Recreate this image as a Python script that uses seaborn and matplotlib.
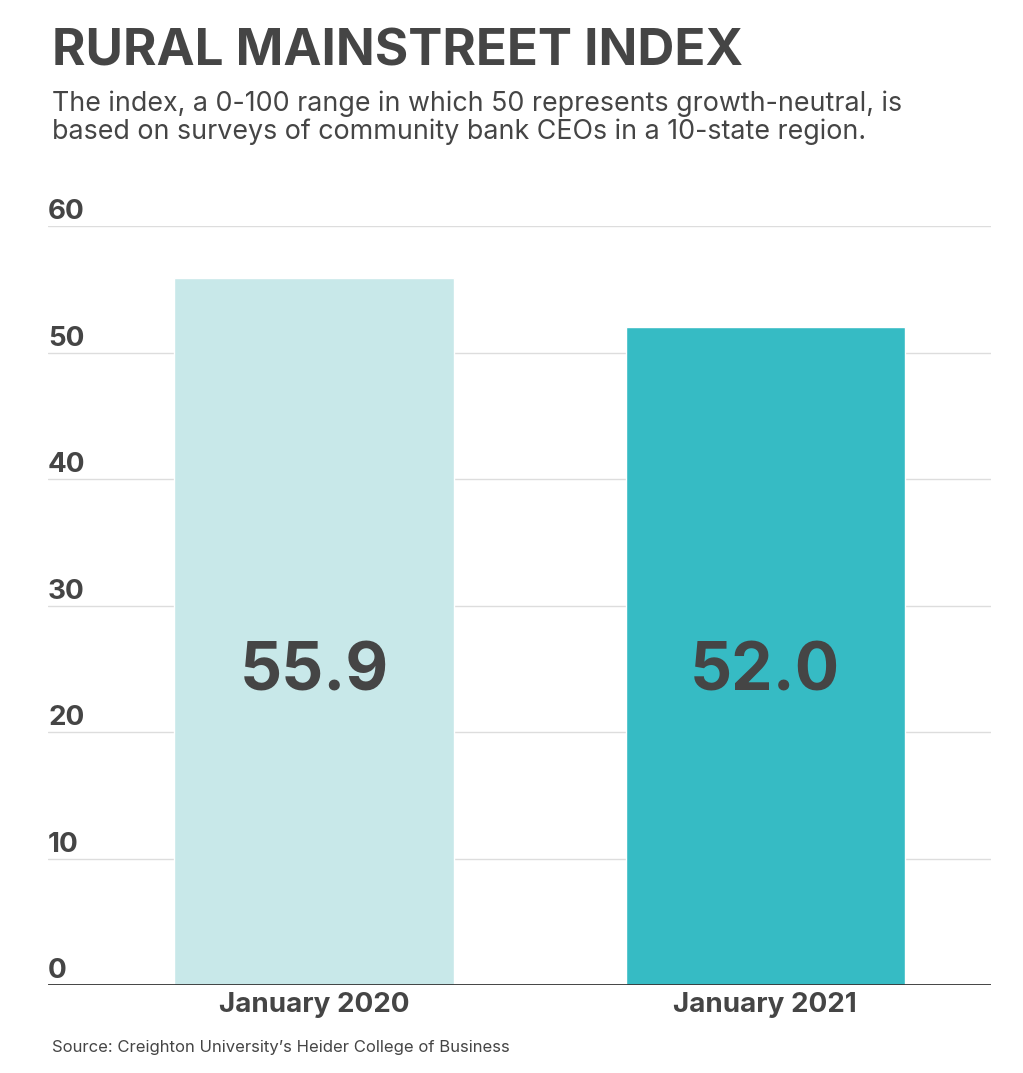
import matplotlib
matplotlib.use("Agg")
import matplotlib.pyplot as plt
import matplotlib.transforms as mtransforms
import seaborn as sns

sns.set_theme(style="white")
plt.rcParams["font.family"] = ["Inter", "DejaVu Sans"]

# data
categories = ["January 2020", "January 2021"]
index_values = [55.9, 52.0]
value_labels = ["55.9", "52.0"]
bar_colors = ["#C8E8E9", "#36BBC4"]
y_ticks = [0, 10, 20, 30, 40, 50, 60]

TEXT = "#454545"
W, H = 1023, 1073

fig = plt.figure(figsize=(W / 100, H / 100), dpi=100)
ax = fig.add_axes([48 / W, 1 - 985 / H, (991 - 48) / W, (985 - 226) / H])

sns.barplot(x=categories, y=index_values, hue=categories, palette=bar_colors,
            width=0.619, saturation=1, legend=False, ax=ax, zorder=2)

ax.set_xlim(-0.589, 1.5)
ax.set_ylim(0, 60)

# gridlines
for v in y_ticks[1:]:
    ax.axhline(v, color="#DDDDDD", lw=1, zorder=1)
ax.axhline(0, color="#333333", lw=2, zorder=3)

for s in ax.spines.values():
    s.set_visible(False)
ax.set_yticks([])
ax.set_xticks([0, 1])
ax.set_xticklabels(categories, fontsize=20, fontweight="bold", color=TEXT)
ax.tick_params(axis="x", length=0, pad=5)
ax.set_xlabel("")
ax.set_ylabel("")

# y tick labels sit above the gridlines
trans = mtransforms.blended_transform_factory(ax.transAxes, ax.transData)
for v in y_ticks:
    ax.annotate(str(v), xy=(0, v), xycoords=trans, xytext=(0, 5),
                textcoords="offset points", ha="left", va="baseline",
                fontsize=20, fontweight="bold", color=TEXT)

# value labels inside bars
for i, lab in enumerate(value_labels):
    ax.text(i, 23.25, lab, ha="center", va="baseline", fontsize=47.5,
            fontweight="bold", color=TEXT, zorder=4)

fig.text(52 / W, 1 - 66 / H, "RURAL MAINSTREET INDEX", ha="left", va="baseline",
         fontsize=36.8, fontweight="bold", color=TEXT)
fig.text(52 / W, 1 - 111 / H,
         "The index, a 0-100 range in which 50 represents growth-neutral, is",
         ha="left", va="baseline", fontsize=19.3, color=TEXT)
fig.text(52 / W, 1 - 139 / H,
         "based on surveys of community bank CEOs in a 10-state region.",
         ha="left", va="baseline", fontsize=19.3, color=TEXT)
fig.text(52 / W, 1 - 1052 / H, "Source: Creighton University\u2019s Heider College of Business",
         ha="left", va="baseline", fontsize=12, color=TEXT)

fig.savefig("out.png", dpi=100)
